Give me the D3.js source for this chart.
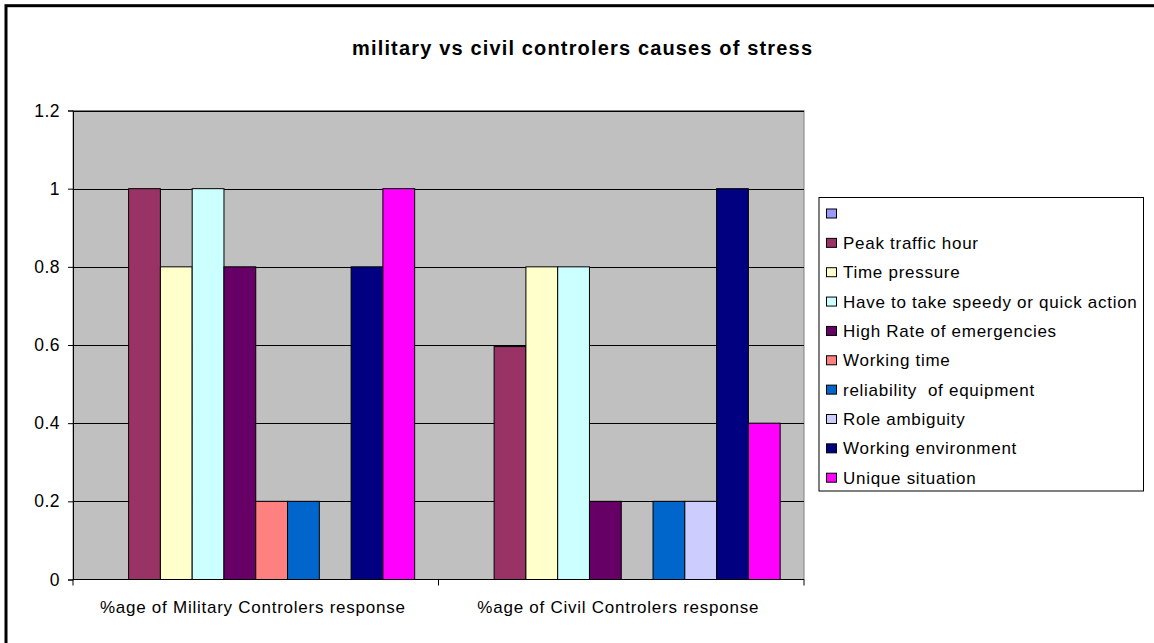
<!DOCTYPE html>
<html>
<head>
<meta charset="utf-8">
<script src="https://cdn.jsdelivr.net/npm/d3@7"></script>
<style>
  html, body { margin: 0; padding: 0; background: #fff; }
  svg { display: block; }
  text { font-family: "Liberation Sans", Arial, sans-serif; fill: #000; }
</style>
</head>
<body>
<svg id="chart" width="1154" height="643"></svg>
<script>
const title = "military vs civil controlers causes of stress";
const categories = ["%age of Military Controlers response", "%age of Civil Controlers response"];
const seriesNames = ["", "Peak traffic hour", "Time pressure", "Have to take speedy or quick action",
  "High Rate of emergencies", "Working time", "reliability  of equipment", "Role ambiguity",
  "Working environment", "Unique situation"];
const seriesColors = ["#9999FF", "#993366", "#FFFFCC", "#CCFFFF", "#660066", "#FF8080",
  "#0066CC", "#CCCCFF", "#000080", "#FF00FF"];
const militaryValues = [null, 1, 0.8, 1, 0.8, 0.2, 0.2, 0, 0.8, 1];
const civilValues = [null, 0.596, 0.8, 0.8, 0.2, 0, 0.2, 0.2, 1, 0.4];
const yTicks = [0, 0.2, 0.4, 0.6, 0.8, 1, 1.2];

const valuesByCategory = [militaryValues, civilValues];

const svg = d3.select("#chart");

// outer frame
svg.append("rect").attr("x", 6).attr("y", 5.7).attr("width", 1300).attr("height", 800)
  .attr("fill", "none").attr("stroke", "#000").attr("stroke-width", 3);

const plot = { left: 73, right: 804, top: 110.5, bottom: 579.5 };

const x0 = d3.scaleBand().domain(categories).range([plot.left, plot.right]).paddingInner(0).paddingOuter(0);
const x1 = d3.scaleBand().domain(d3.range(seriesNames.length)).range([0, x0.bandwidth()])
  .paddingInner(0).paddingOuter(0.75);
const y = d3.scaleLinear().domain([0, 1.2]).range([plot.bottom, plot.top]);

// plot area
svg.append("rect").attr("x", plot.left).attr("y", plot.top)
  .attr("width", plot.right - plot.left).attr("height", plot.bottom - plot.top)
  .attr("fill", "#C0C0C0").attr("stroke", "#808080").attr("stroke-width", 1);

// gridlines
svg.append("g").selectAll("line").data(yTicks.filter(d => d > 0)).join("line")
  .attr("x1", plot.left).attr("x2", plot.right)
  .attr("y1", d => Math.round(y(d)) + 0.5).attr("y2", d => Math.round(y(d)) + 0.5)
  .attr("stroke", "#000").attr("stroke-width", 1);

// bars
const groups = svg.append("g").selectAll("g").data(categories).join("g")
  .attr("transform", d => `translate(${x0(d)},0)`);
groups.selectAll("rect")
  .data((c, ci) => valuesByCategory[ci].map((v, i) => ({ v, i })).filter(d => d.v !== null && d.v > 0))
  .join("rect")
  .attr("x", d => x1(d.i))
  .attr("width", x1.bandwidth())
  .attr("y", d => y(d.v))
  .attr("height", d => y(0) - y(d.v))
  .attr("fill", d => seriesColors[d.i])
  .attr("stroke", "#000").attr("stroke-width", 1);

// y axis
const yAxis = d3.axisLeft(y).tickValues(yTicks).tickFormat(d => d3.format("")(+d.toFixed(1))).tickSize(5).tickPadding(8);
const yg = svg.append("g").attr("transform", `translate(${plot.left},0)`).call(yAxis);
yg.select(".domain").attr("stroke", "#000");
yg.selectAll(".tick line").attr("stroke", "#000");
yg.selectAll(".tick text").attr("font-size", 17.5).attr("font-family", "Liberation Sans, Arial, sans-serif")
  .attr("fill", "#000").attr("letter-spacing", 0.5);

// x axis
const xg = svg.append("g").attr("transform", `translate(0,${plot.bottom})`);
xg.append("line").attr("x1", plot.left).attr("x2", plot.right).attr("y1", 0).attr("y2", 0).attr("stroke", "#000");
const xTickPos = [plot.left, ...categories.slice(1).map(c => x0(c)), plot.right];
xg.selectAll("line.tk").data(xTickPos).join("line").attr("class", "tk")
  .attr("x1", d => d).attr("x2", d => d).attr("y1", 0).attr("y2", 6).attr("stroke", "#000");
xg.selectAll("text").data(categories).join("text")
  .attr("x", d => x0(d) + x0.bandwidth() / 2 - 3).attr("y", 33)
  .attr("text-anchor", "middle").attr("font-size", 17).attr("letter-spacing", 0.75).text(d => d);

// title
svg.append("text").attr("x", 582).attr("y", 55).attr("text-anchor", "middle")
  .attr("font-size", 20).attr("font-weight", "bold")
  .attr("textLength", 460).attr("lengthAdjust", "spacing").text(title);

// legend
const lg = { x: 819, y: 197.5, w: 324.5, h: 293.5 };
const legend = svg.append("g");
legend.append("rect").attr("x", lg.x).attr("y", lg.y).attr("width", lg.w).attr("height", lg.h)
  .attr("fill", "#fff").attr("stroke", "#000").attr("stroke-width", 1);
const rowY = d3.scalePoint().domain(d3.range(seriesNames.length)).range([213.5, 477.7]);
const items = legend.selectAll("g").data(seriesNames).join("g")
  .attr("transform", (d, i) => `translate(0,${rowY(i)})`);
items.append("rect").attr("x", 826.5).attr("y", -4.5).attr("width", 10).attr("height", 9)
  .attr("fill", (d, i) => seriesColors[i]).attr("stroke", "#000").attr("stroke-width", 1);
items.append("text").attr("x", 843).attr("y", 6).attr("font-size", 17).attr("letter-spacing", 0.72)
  .style("white-space", "pre").text(d => d);
</script>
</body>
</html>
